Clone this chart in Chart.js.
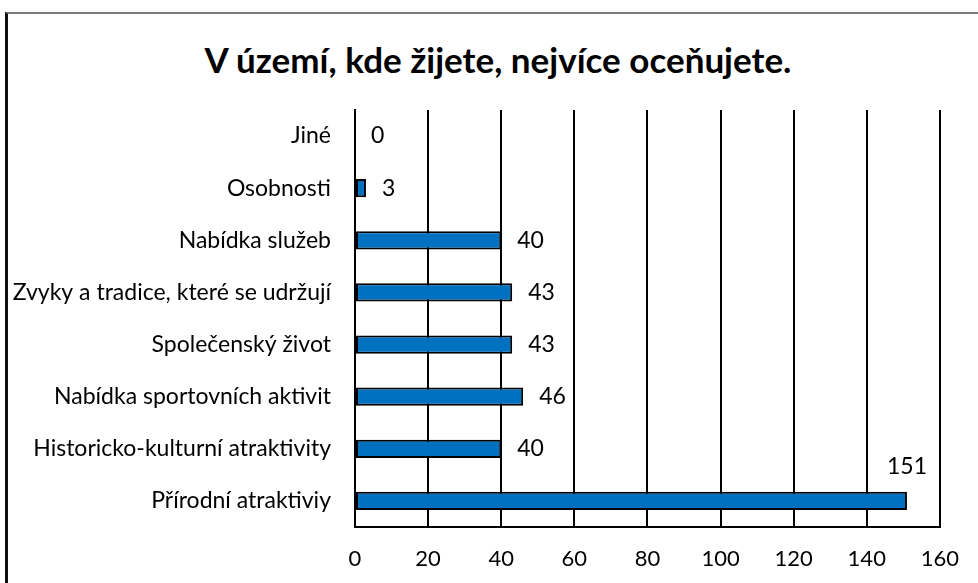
<!DOCTYPE html>
<html>
<head>
<meta charset="utf-8">
<script src="https://cdn.jsdelivr.net/npm/chart.js@4.4.0/dist/chart.umd.min.js"></script>
<style>
    html, body { margin: 0; padding: 0; background: #fff; }
    #wrap { position: relative; width: 978px; height: 583px; overflow: hidden; }
    #frame { position: absolute; left: 5px; top: 12px; width: 980px; height: 600px;
             border-top: 2px solid #7a7a7a; border-left: 3px solid #111; box-sizing: border-box; }
    #title { position: absolute; left: 18px; width: 960px; top: 38px; line-height: 40px;
             text-align: center; font: bold 35px Lato, 'Open Sans', sans-serif; color: #000; }
    canvas { position: absolute; left: 0; top: 0; }
</style>
</head>
<body>
<div id="wrap">
    <div id="frame"></div>
    <div id="title">V území, kde žijete, nejvíce oceňujete.</div>
    <canvas id="chart" width="978" height="583"></canvas>
</div>
<script>
    const categories = [
        "Jiné",
        "Osobnosti",
        "Nabídka služeb",
        "Zvyky a tradice, které se udržují",
        "Společenský život",
        "Nabídka sportovních aktivit",
        "Historicko-kulturní atraktivity",
        "Přírodní atraktiviy"
    ];
    const counts = [0, 3, 40, 43, 43, 46, 40, 151];
    const xTicks = [0, 20, 40, 60, 80, 100, 120, 140, 160];

    const FONT = "Lato, 'Open Sans', sans-serif";

    // value labels next to bar ends (above the bar if there's no room on the right)
    const valueLabels = {
        id: "valueLabels",
        afterDatasetsDraw(chart) {
            const ctx = chart.ctx;
            const meta = chart.getDatasetMeta(0);
            const area = chart.chartArea;
            ctx.save();
            ctx.font = "23px " + FONT;
            ctx.fillStyle = "#000";
            ctx.textBaseline = "middle";
            meta.data.forEach((bar, i) => {
                const txt = String(counts[i]);
                const w = ctx.measureText(txt).width;
                if (bar.x + 16 + w > area.right - 4) {
                    ctx.textAlign = "center";
                    ctx.fillText(txt, bar.x, bar.y - 34);
                } else {
                    ctx.textAlign = "left";
                    ctx.fillText(txt, bar.x + 16, bar.y);
                }
            });
            ctx.restore();
        }
    };

    new Chart(document.getElementById("chart"), {
        type: "bar",
        data: {
            labels: categories,
            datasets: [{
                data: counts,
                backgroundColor: "#0070C0",
                borderColor: "#000",
                borderWidth: 2,
                borderSkipped: false,
                barPercentage: 0.35,
                categoryPercentage: 1
            }]
        },
        options: {
            indexAxis: "y",
            responsive: false,
            animation: false,
            layout: { padding: { left: 0, right: 37, top: 110, bottom: 0 } },
            plugins: {
                legend: { display: false },
                tooltip: { enabled: false },
                title: { display: false }
            },
            scales: {
                x: {
                    min: 0,
                    max: 160,
                    afterBuildTicks: axis => { axis.ticks = xTicks.map(v => ({ value: v })); },
                    afterFit: axis => { axis.height = 56; },
                    grid: { color: "#000", lineWidth: 2, drawTicks: false },
                    border: { display: true, color: "#000", width: 2 },
                    ticks: { color: "#000", padding: 19, font: { family: FONT, size: 22 } }
                },
                y: {
                    afterFit: axis => { axis.width = 355; },
                    grid: { display: false, drawTicks: false },
                    border: { display: true, color: "#000", width: 2 },
                    ticks: { color: "#000", padding: 24, font: { family: FONT, size: 23 } }
                }
            }
        },
        plugins: [valueLabels]
    });
</script>
</body>
</html>
